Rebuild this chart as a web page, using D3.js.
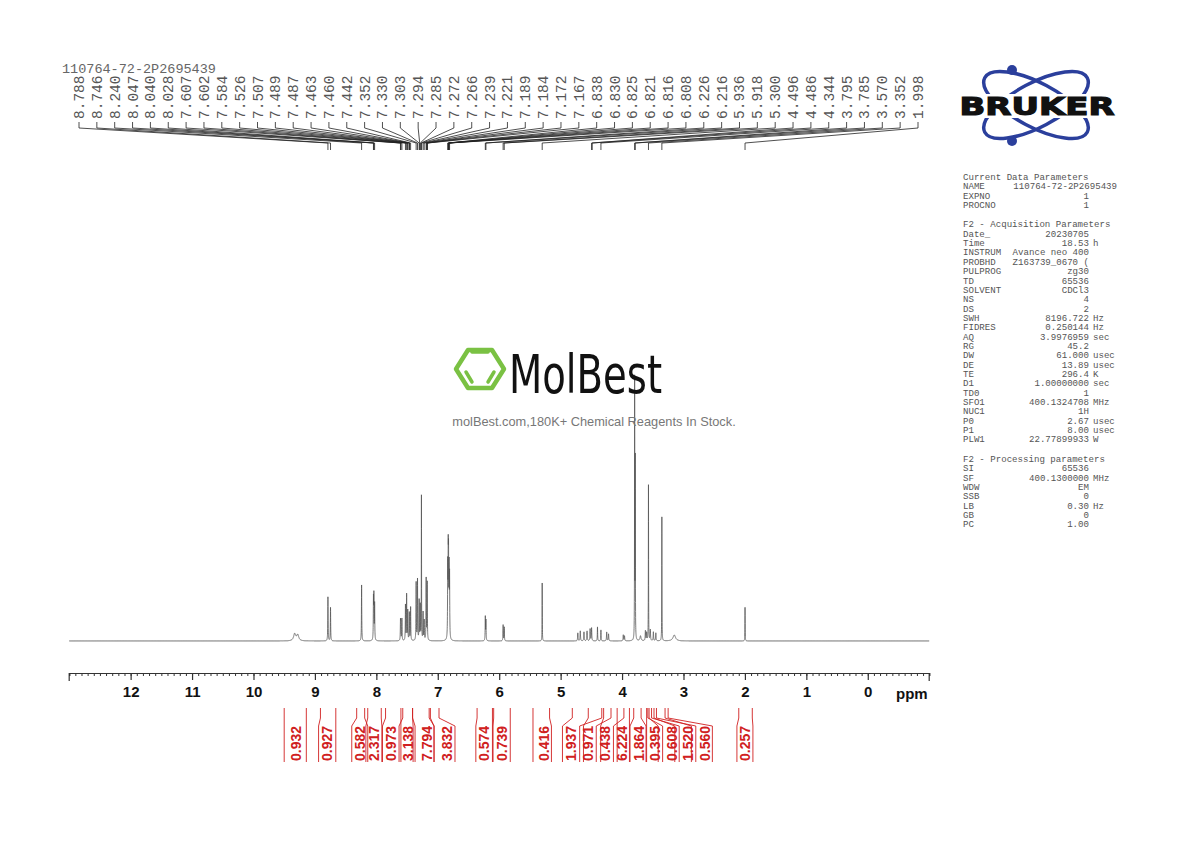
<!DOCTYPE html>
<html><head><meta charset="utf-8">
<script src="https://cdn.jsdelivr.net/npm/d3@7"></script>
<style>body{margin:0;background:#fff}svg{display:block}</style>
</head><body><svg id="c" width="1190" height="842"></svg>
<script>
const title = "110764-72-2P2695439";
const peakLabels = [8.788,8.746,8.240,8.047,8.040,8.028,7.607,7.602,7.584,7.526,7.507,7.489,7.487,7.463,7.460,7.442,7.352,7.330,7.303,7.294,7.285,7.272,7.266,7.239,7.221,7.189,7.184,7.172,7.167,6.838,6.830,6.825,6.821,6.816,6.808,6.226,6.216,5.936,5.918,5.300,4.496,4.486,4.344,3.795,3.785,3.570,3.352,1.998];
// spectrum lines: [ppm, height (relative), width ppm]
const specPeaks = [[9.33,7,0.02],[9.28,6,0.02],[8.788,44,0.003],[8.746,34,0.003],[8.240,56,0.003],[8.047,40,0.003],[8.040,42,0.003],[8.028,36,0.003],
[7.607,18,0.003],[7.602,16,0.003],[7.584,22,0.003],[7.526,36,0.003],[7.507,46,0.003],[7.489,30,0.003],[7.463,28,0.003],[7.442,34,0.003],
[7.352,58,0.003],[7.330,62,0.003],[7.303,40,0.003],[7.285,35,0.003],[7.266,150,0.002],[7.239,28,0.003],[7.221,20,0.003],[7.189,62,0.003],[7.172,58,0.003],
[6.838,70,0.003],[6.830,75,0.003],[6.825,70,0.003],[6.816,65,0.003],[6.808,60,0.003],[6.226,24,0.003],[6.216,20,0.003],[5.936,16,0.003],[5.918,14,0.003],[5.300,58,0.002],
[4.72,8,0.004],[4.68,10,0.004],[4.62,9,0.004],[4.57,10,0.004],[4.52,12,0.004],[4.496,13,0.004],[4.40,14,0.003],[4.344,11,0.003],[4.25,9,0.004],[4.22,7,0.004],[3.98,6,0.004],[3.96,5,0.004],
[3.795,262,0.002],[3.785,180,0.002],[3.70,5,0.01],[3.62,10,0.004],[3.60,8,0.004],[3.570,162,0.002],[3.54,11,0.004],[3.49,9,0.004],[3.45,8,0.004],[3.352,124,0.002],[3.15,6,0.025],[1.998,35,0.002]];
const integrals = [["0.932",9.50,9.14,9.32],["0.927",8.91,8.66,8.81],["0.582",8.32,8.19,8.27],["2.317",8.14,7.92,8.04],["0.973",7.85,7.60,7.77],
["3.138",7.57,7.41,7.50],["7.794",7.41,7.14,7.19],["3.832",7.12,6.98,6.85],["0.574",6.36,6.11,6.25],["0.739",6.09,5.82,5.97],["0.416",5.45,5.18,5.28],
["1.937",4.81,4.55,4.84],["0.971",4.33,4.30,4.56],["0.438",4.18,4.08,4.29],["6.224",3.97,3.88,4.01],["1.864",3.81,3.69,3.74],["0.395",3.60,3.58,3.47],
["0.608",3.56,3.52,3.20],["1.520",3.48,3.44,2.93],["0.560",3.30,3.25,2.66],["0.257",2.10,1.88,2.00]];
const params = [["Current Data Parameters","",""],["NAME","110764-72-2P2695439",""],["EXPNO","1",""],["PROCNO","1",""],null,
["F2 - Acquisition Parameters","",""],["Date_","20230705",""],["Time","18.53","h"],["INSTRUM","Avance neo 400",""],["PROBHD","Z163739_0670 (",""],
["PULPROG","zg30",""],["TD","65536",""],["SOLVENT","CDCl3",""],["NS","4",""],["DS","2",""],["SWH","8196.722","Hz"],["FIDRES","0.250144","Hz"],
["AQ","3.9976959","sec"],["RG","45.2",""],["DW","61.000","usec"],["DE","13.89","usec"],["TE","296.4","K"],["D1","1.00000000","sec"],["TD0","1",""],
["SFO1","400.1324708","MHz"],["NUC1","1H",""],["P0","2.67","usec"],["P1","8.00","usec"],["PLW1","22.77899933","W"],null,
["F2 - Processing parameters","",""],["SI","65536",""],["SF","400.1300000","MHz"],["WDW","EM",""],["SSB","0",""],["LB","0.30","Hz"],["GB","0",""],["PC","1.00",""]];
const axisTicks = [12,11,10,9,8,7,6,5,4,3,2,1,0];

const svg = d3.select("#c");
const x = d3.scaleLinear().domain([13,-1]).range([69.2,929.2]);
const y = d3.scaleLinear().domain([0,300]).range([641,341]);
const mono = "Liberation Mono, DejaVu Sans Mono, monospace";

const pts = [];
for (let p = 13; p >= -1; p -= 0.0008) {
  let s = 0;
  for (const [c,h,w] of specPeaks) { const d=(p-c)/w; s += h/(1+d*d); }
  pts.push([p,s]);
}
svg.append("path").datum(pts).attr("fill","none").attr("stroke","#555").attr("stroke-width",0.8)
  .attr("d", d3.line().x(d=>x(d[0])).y(d=>y(Math.min(d[1],300))));

const ax = svg.append("g").attr("transform","translate(0,673)")
  .call(d3.axisBottom(x).tickValues(d3.range(-1,13.001,0.1)).tickSize(3).tickFormat(""));
ax.select(".domain").attr("stroke","#333").attr("stroke-width",1.2);
ax.selectAll(".tick line").attr("stroke","#333");
svg.append("g").attr("transform","translate(0,673)")
  .call(d3.axisBottom(x).tickValues(axisTicks).tickSize(7).tickFormat(d3.format("d")))
  .call(g=>{g.select(".domain").remove();g.selectAll("line").attr("stroke","#333").attr("stroke-width",1.2);
    g.selectAll("text").attr("y",13).attr("font-family","Arial, Liberation Sans").attr("font-weight","bold").attr("font-size",15).attr("fill","#111");});
svg.append("text").attr("x",896).attr("y",699).text("ppm").attr("font-family","Liberation Sans").attr("font-weight","bold").attr("font-size",15).attr("fill","#111");
svg.append("line").attr("x1",929.2).attr("x2",929.2).attr("y1",673).attr("y2",681).attr("stroke","#333").attr("stroke-width",1.2);
svg.append("line").attr("x1",69.2).attr("x2",69.2).attr("y1",673).attr("y2",681).attr("stroke","#333").attr("stroke-width",1.2);

const lx = d3.scaleLinear().domain([0,peakLabels.length-1]).range([79,918]);
const pl = svg.append("g");
peakLabels.forEach((p,i)=>{
  const X = lx(i), P = x(p);
  pl.append("text").attr("transform",`translate(${X+5},119) rotate(-90)`).text(p.toFixed(3))
    .attr("font-family",mono).attr("font-size",14.5).attr("fill","#555");
  pl.append("path").attr("d",`M${X},122V128L${P},143V150`).attr("fill","none").attr("stroke","#222").attr("stroke-width",0.8);
});
svg.append("text").attr("x",62).attr("y",73).text(title).attr("font-family",mono).attr("font-size",13.5).attr("fill","#666");

const ig = svg.append("g");
integrals.forEach(([v,a,b,c])=>{
  const xa=x(a), xb=x(b), xc=x(c);
  const L=xc-8, R=xc+8;
  ig.append("path").attr("d",`M${xa},708V718L${Math.min(L,Math.max(xa,L-5))},726V762M${xb},708V718L${Math.max(R,Math.min(xb,R+5))},726V762`)
    .attr("fill","none").attr("stroke","#d02020").attr("stroke-width",0.9);
  ig.append("text").attr("transform",`translate(${xc+5.5},761) rotate(-90)`).text(v)
    .attr("font-family","Liberation Sans, Arial").attr("font-weight","bold").attr("font-size",14).attr("fill","#d02020");
});

const pg = svg.append("g").attr("font-family",mono).attr("font-size",9.1).attr("fill","#555");
let yy=180;
params.forEach(r=>{
  if(!r){yy+=10;return;}
  pg.append("text").attr("x",963).attr("y",yy).text(r[0]);
  if(r[1]!==""){
    const rx = r[0]==="NAME"?1117:1089;
    pg.append("text").attr("x",rx).attr("y",yy).attr("text-anchor","end").text(r[1]);
    if(r[2]) pg.append("text").attr("x",1093).attr("y",yy).text(r[2]);
  }
  yy+=9.35;
});

const bl = svg.append("g");
bl.append("ellipse").attr("cx",1036).attr("cy",105).attr("rx",58).attr("ry",22).attr("transform","rotate(28,1036,105)").attr("fill","none").attr("stroke","#2b3f9c").attr("stroke-width",3.5);
bl.append("ellipse").attr("cx",1036).attr("cy",105).attr("rx",58).attr("ry",22).attr("transform","rotate(-28,1036,105)").attr("fill","none").attr("stroke","#2b3f9c").attr("stroke-width",3.5);
bl.append("circle").attr("cx",1012).attr("cy",70).attr("r",5).attr("fill","#2b3f9c");
bl.append("circle").attr("cx",1012).attr("cy",141).attr("r",5).attr("fill","#2b3f9c");
bl.append("rect").attr("x",958).attr("y",94).attr("width",158).attr("height",24).attr("fill","#fff");
bl.append("text").attr("x",1037).attr("y",115).attr("text-anchor","middle").text("BRUKER")
  .attr("font-family","DejaVu Sans, Liberation Sans").attr("font-weight","bold").attr("font-size",25)
  .attr("textLength",155).attr("lengthAdjust","spacingAndGlyphs").attr("stroke","#111").attr("stroke-width",1.2).attr("fill","#111");

const mw = svg.append("g");
const hex = d3.range(6).map(k=>[480+24*Math.cos(k*Math.PI/3), 369+22*Math.sin(k*Math.PI/3)]);
mw.append("polygon").attr("points",hex.map(d=>d.join(",")).join(" ")).attr("fill","none").attr("stroke","#7ac143").attr("stroke-width",4.5).attr("stroke-linejoin","round");
mw.append("path").attr("d","M472,352H488M466,372L472,382M494,372L488,382").attr("stroke","#7ac143").attr("stroke-width",3.5).attr("stroke-linecap","round");
mw.append("text").attr("x",509).attr("y",393).text("MolBest").attr("font-family","Liberation Sans Narrow, DejaVu Sans Condensed, sans-serif")
  .attr("font-size",54).attr("textLength",153).attr("lengthAdjust","spacingAndGlyphs").attr("fill","#111");
mw.append("text").attr("x",594).attr("y",426).attr("text-anchor","middle").text("molBest.com,180K+ Chemical Reagents In Stock.")
  .attr("font-family","Liberation Sans, Arial").attr("font-size",12.8).attr("fill","#777");
</script></body></html>
